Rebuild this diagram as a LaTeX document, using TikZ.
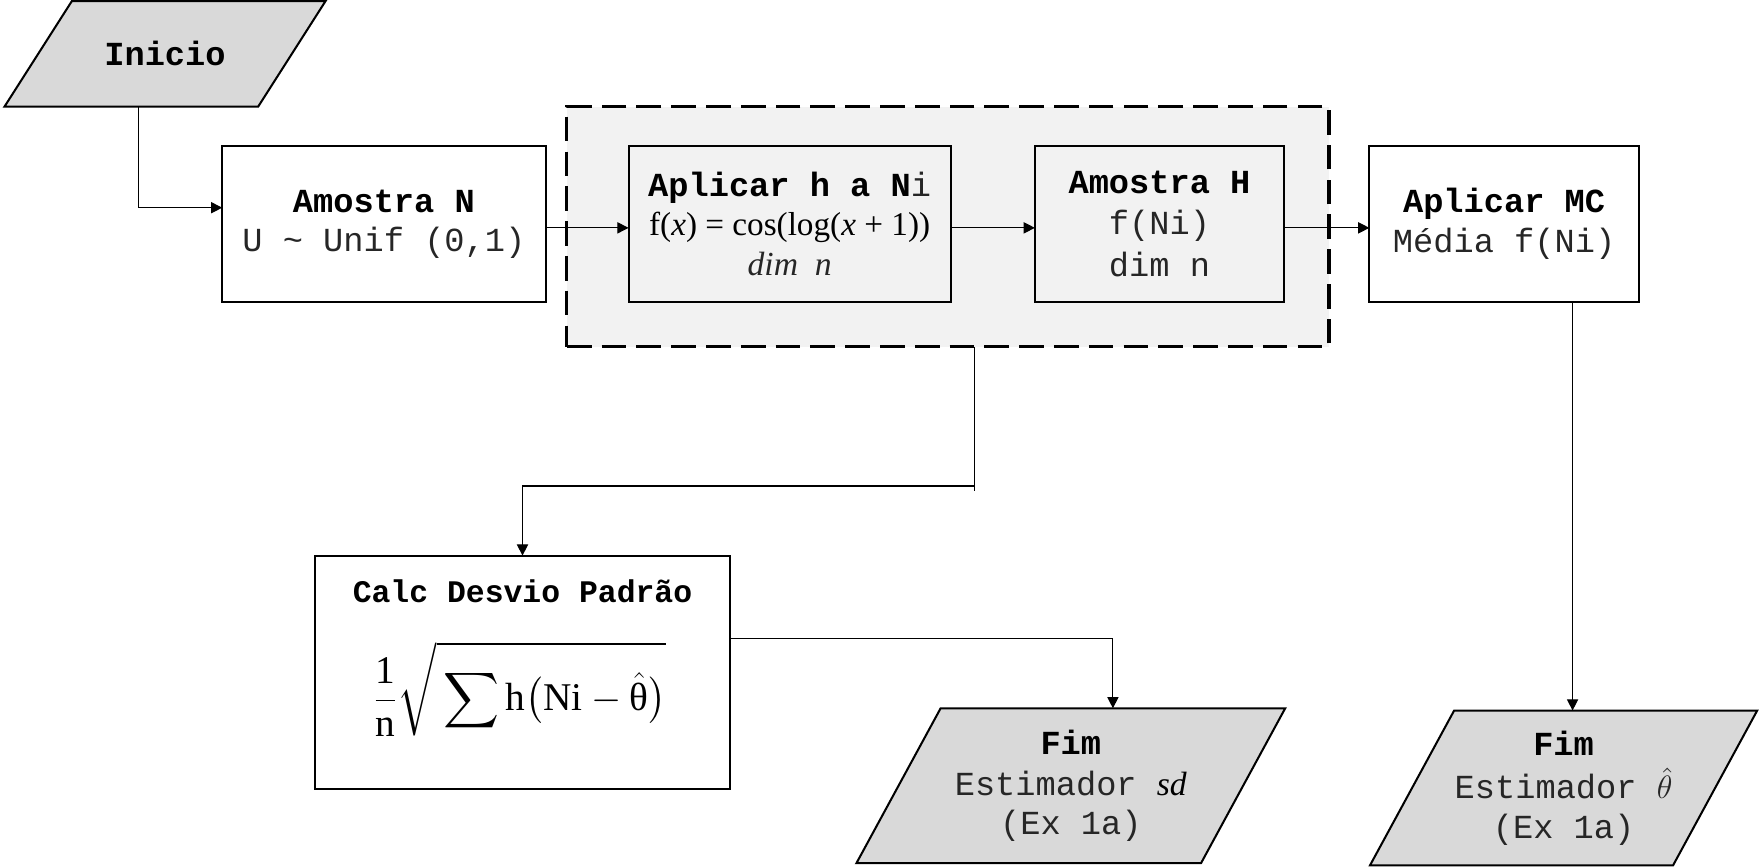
\documentclass[tikz,border=0pt]{standalone}
\usepackage{fontspec}
\usepackage{amsmath}
\newfontfamily\cour{Liberation Mono}
\newfontfamily\serifu{Liberation Serif}
\usetikzlibrary{arrows.meta,calc,backgrounds}
\definecolor{pgray}{HTML}{D9D9D9}
\definecolor{lgray}{HTML}{F2F2F2}
\definecolor{thin}{HTML}{262626}
\newcommand{\sr}[1]{\mbox{\serifu #1}}
\begin{document}
\begin{tikzpicture}[x=0.5pt,y=-0.5pt,
  txt/.style={inner sep=0pt,outer sep=0pt,align=center,text=thin,font=\cour\fontsize{15}{17.5}\selectfont},
  box/.style={txt,draw,line width=0.9pt},
  grpbox/.style={draw,line width=1.4pt,dash pattern=on 11pt off 4.5pt,fill=lgray,inner sep=0pt,outer sep=0pt},
  parashape/.style={draw,line width=0.9pt,fill=pgray,line join=miter},
  conn/.style={line width=0.5pt,-{Triangle[length=5pt,width=5pt]}},
  plain/.style={line width=0.5pt}]
\useasboundingbox (0,0) rectangle (1568,772);

% dashed group
\node[grpbox,minimum width=339.5pt,minimum height=107pt] (grp) at (844.5,202) {};

% boxes
\node[box,minimum width=144pt,minimum height=69.5pt] (amN) at (342,199.5)
  {\textcolor{black}{\textbf{Amostra N}}\\U \textasciitilde{} Unif (0,1)};
\node[box,fill=lgray,minimum width=143.5pt,minimum height=69.5pt] (aplH) at (703.5,199.5)
  {\textcolor{black}{\textbf{Aplicar h a N}}i\\[0pt]{\color{black}\serifu\fontsize{14.8}{16.5}\selectfont f(\textit{x}) = cos(log(\textit{x} + 1))}\\{\serifu\itshape dim\ \ n}};
\node[box,fill=lgray,minimum width=111pt,minimum height=69.5pt] (amH) at (1033,199.5)
  {\textcolor{black}{\textbf{Amostra H}}\\[1pt] f(Ni)\\[1pt] dim n};
\node[box,minimum width=120pt,minimum height=69.5pt] (aplMC) at (1340,199.5)
  {\textcolor{black}{\textbf{Aplicar MC}}\\Média f(Ni)};
\node[box,minimum width=184.5pt,minimum height=104pt] (calc) at (465.5,599) {};
\node[txt,text=black,font=\cour\bfseries\fontsize{14}{17}\selectfont] (calcT) at (465.5,527) {Calc Desvio Padrão};
\node[txt,text=black,font=\fontsize{17.5}{19}\selectfont] (calcF) at (463,614)
  {$\displaystyle\frac{\sr{1}}{\sr{n}}\sqrt{\rule{0pt}{1.4em}\sum\sr{h}\bigl(\sr{Ni}-\hat{\sr{θ}}\bigr)}$};

% parallelogram nodes
\node[txt,minimum width=113pt,minimum height=47pt] (inicio) at (147,48) {\textcolor{black}{\textbf{Inicio}}};
\node[txt,minimum width=153.5pt,minimum height=69pt] (fim1) at (954,700)
  {\textcolor{black}{\textbf{Fim}}\\[1pt] Estimador {\color{black}\serifu\itshape sd}\\[0pt] (Ex 1a)};
\node[txt,minimum width=135pt,minimum height=69pt] (fim2) at (1393,702)
  {\textcolor{black}{\textbf{Fim}}\\[2pt] Estimador $\hat{\theta}$\\[0pt] (Ex 1a)};

\begin{scope}[on background layer]
\draw[parashape] ([xshift=15pt]inicio.north west) -- ([xshift=15pt]inicio.north east)
  -- ([xshift=-15pt]inicio.south east) -- ([xshift=-15pt]inicio.south west) -- cycle;
\draw[parashape] ([xshift=18.75pt]fim1.north west) -- ([xshift=18.75pt]fim1.north east)
  -- ([xshift=-18.75pt]fim1.south east) -- ([xshift=-18.75pt]fim1.south west) -- cycle;
\draw[parashape] ([xshift=18.75pt]fim2.north west) -- ([xshift=18.75pt]fim2.north east)
  -- ([xshift=-18.75pt]fim2.south east) -- ([xshift=-18.75pt]fim2.south west) -- cycle;
\end{scope}

% connectors
\draw[conn] ([xshift=-12pt]inicio.south) |- ($(amN.north west)!0.396!(amN.south west)$);
\draw[conn] ([yshift=-1.75pt]amN.east) -- ([yshift=-1.75pt]aplH.west);
\draw[conn] ([yshift=-1.75pt]aplH.east) -- ([yshift=-1.75pt]amH.west);
\draw[conn] ([yshift=-1.75pt]amH.east) -- ([yshift=-1.75pt]aplMC.west);
\draw[conn] ([xshift=30.5pt]aplMC.south) -- ([xshift=30.5pt]aplMC.south |- fim2.north);
\coordinate (bend) at ([xshift=11.75pt,yshift=-62pt]grp.south);
\draw[plain] ([xshift=11.75pt]grp.south) -- ([yshift=-2pt]bend);
\draw[conn] (bend) -| (calc.north);
\draw[conn] ([yshift=15pt]calc.east) -| ([xshift=18.75pt]fim1.north);
\end{tikzpicture}
\end{document}
